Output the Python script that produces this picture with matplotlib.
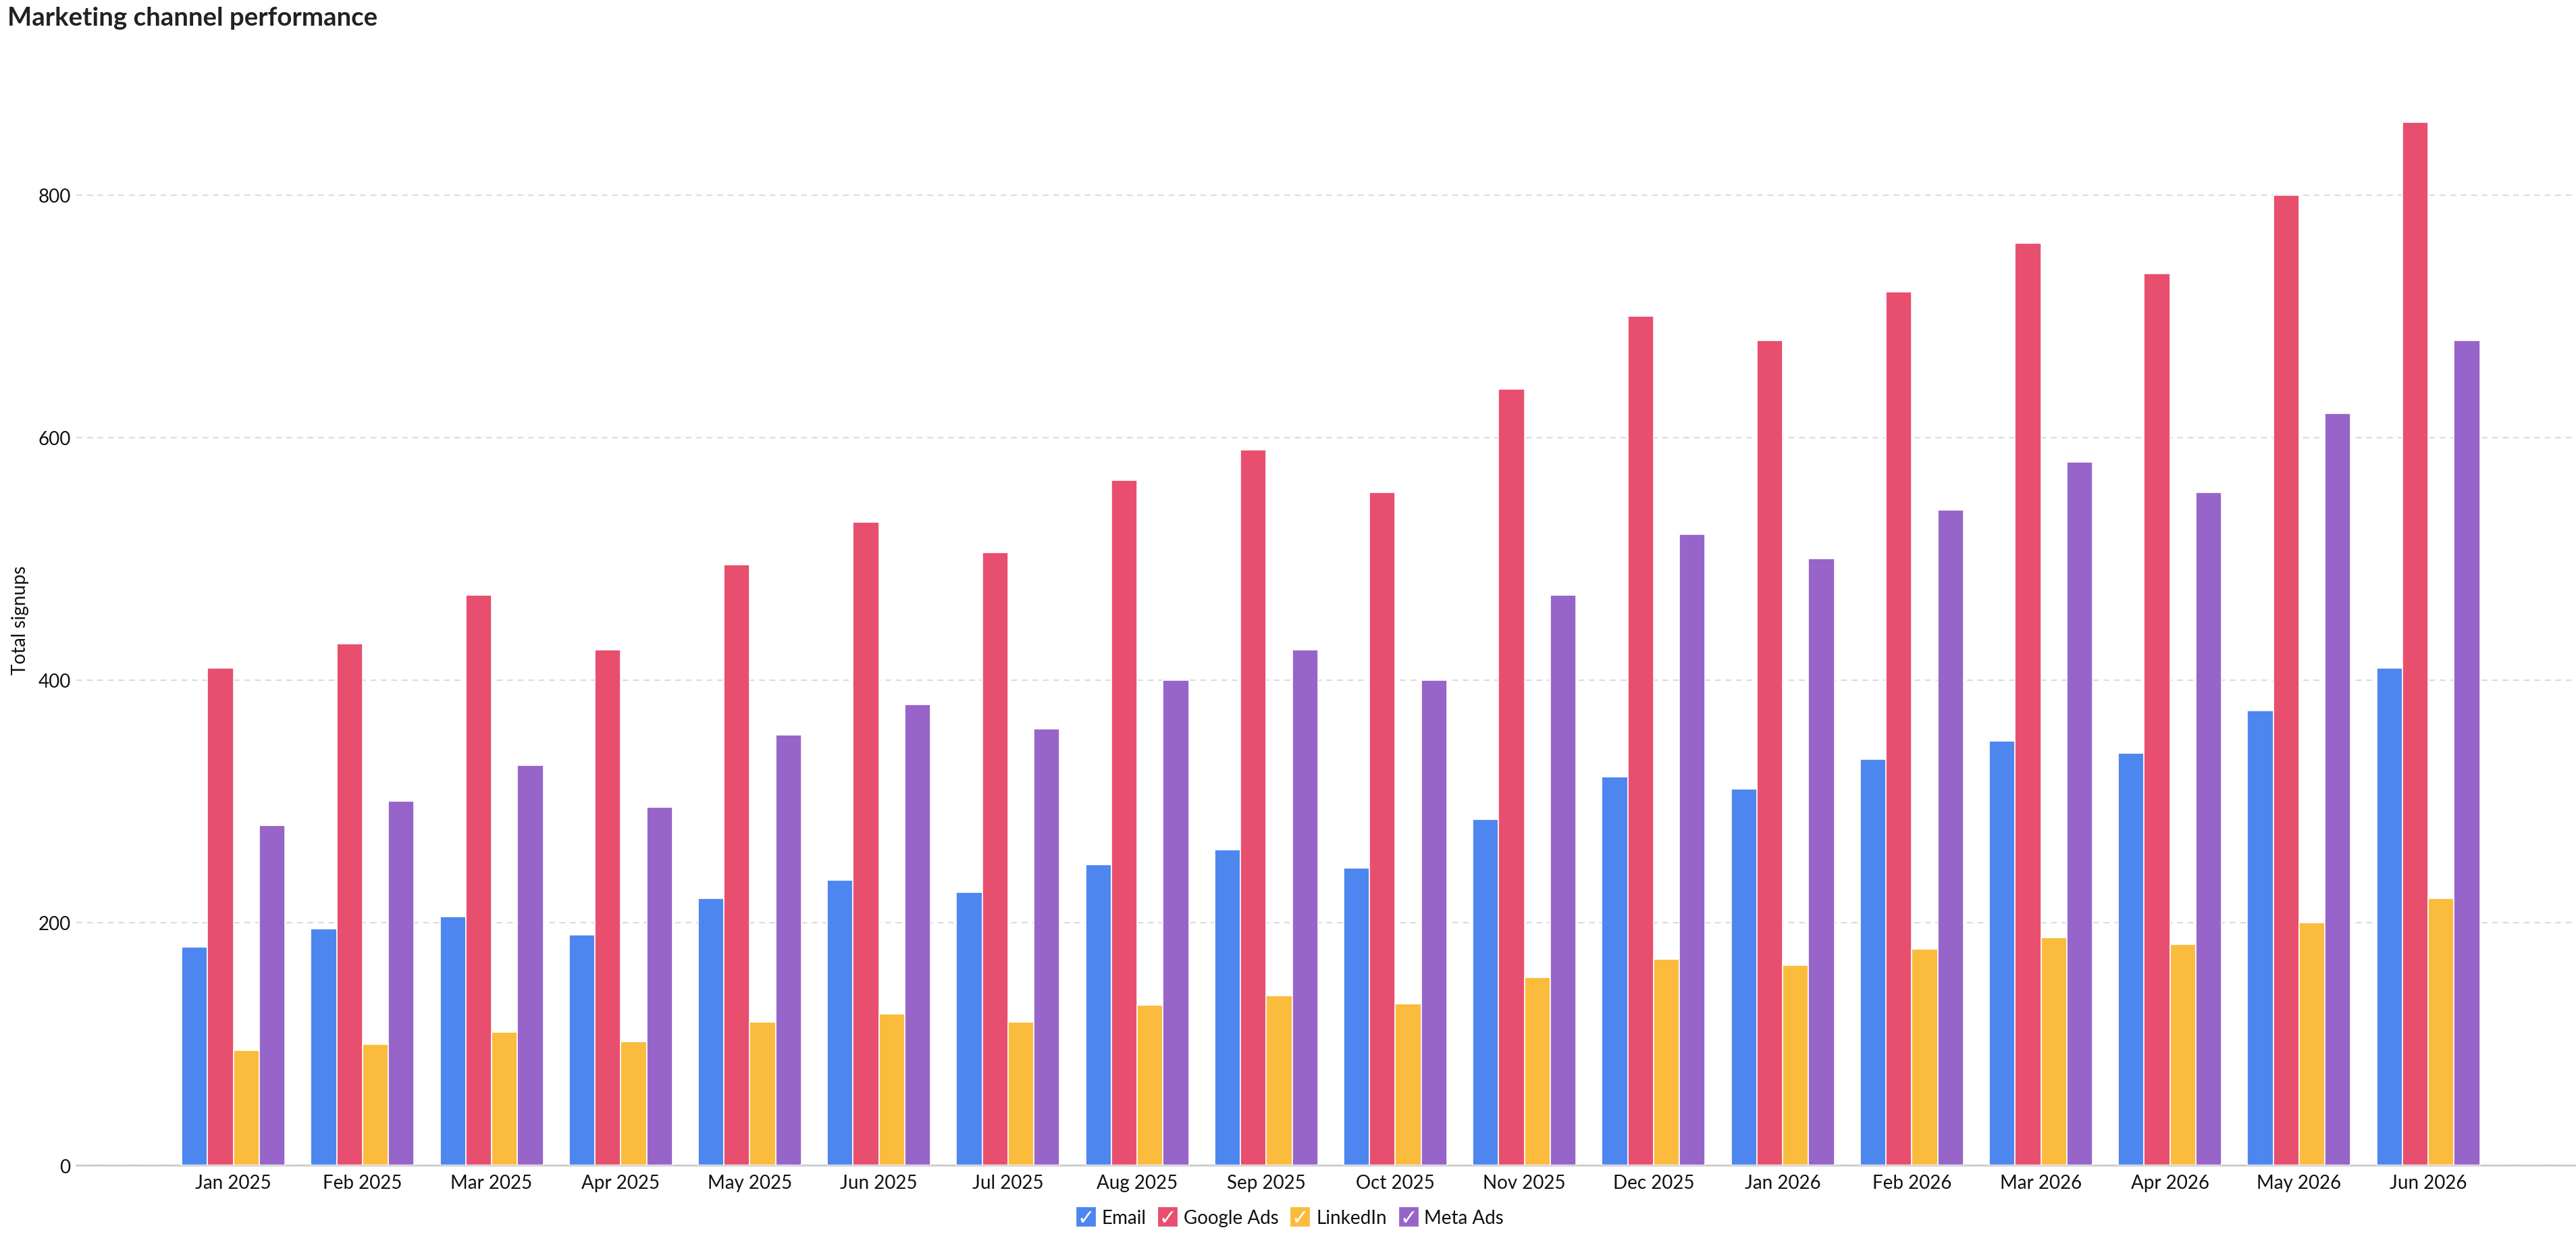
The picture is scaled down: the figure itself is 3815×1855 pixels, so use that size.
import matplotlib.pyplot as plt
import numpy as np
from matplotlib.lines import Line2D
from matplotlib.legend_handler import HandlerTuple

plt.rcParams["font.family"] = ["Lato", "DejaVu Sans"]

months = ["Jan 2025", "Feb 2025", "Mar 2025", "Apr 2025", "May 2025", "Jun 2025",
          "Jul 2025", "Aug 2025", "Sep 2025", "Oct 2025", "Nov 2025", "Dec 2025",
          "Jan 2026", "Feb 2026", "Mar 2026", "Apr 2026", "May 2026", "Jun 2026"]
channels = ["Email", "Google Ads", "LinkedIn", "Meta Ads"]
email = [180, 195, 205, 190, 220, 235, 225, 248, 260, 245, 285, 320, 310, 335, 350, 340, 375, 410]
google_ads = [410, 430, 470, 425, 495, 530, 505, 565, 590, 555, 640, 700, 680, 720, 760, 735, 800, 860]
linkedin = [95, 100, 110, 102, 118, 125, 118, 132, 140, 133, 155, 170, 165, 178, 188, 182, 200, 220]
meta_ads = [280, 300, 330, 295, 355, 380, 360, 400, 425, 400, 470, 520, 500, 540, 580, 555, 620, 680]
colors = ["#4E86F0", "#E84F6F", "#FBBB3C", "#9765C9"]

fig = plt.figure(figsize=(19.08, 9.28), dpi=200)
ax = fig.add_axes([0.0296, 0.070, 0.9704, 0.8707])

x = np.arange(len(months))
series = [email, google_ads, linkedin, meta_ads]
w = 0.2
for i, (vals, name) in enumerate(zip(series, channels)):
    ax.bar(x + (i - 1.5) * w, vals, width=w, color=colors[i], edgecolor="white",
           linewidth=0.6, label=name, zorder=3)

ax.set_xlim(-1.217, 18.15)
ax.set_ylim(0, 900)
ax.set_yticks([0, 200, 400, 600, 800])
ax.set_xticks(x)
ax.set_xticklabels(months)
ax.tick_params(axis="both", length=0, labelsize=10, colors="#111111")
ax.tick_params(axis="y", pad=3)
ax.tick_params(axis="x", pad=4.5)
ax.grid(axis="y", color="#DDDDDD", linestyle=(0, (4, 3)), linewidth=0.8, zorder=0)
for s in ["top", "right", "left"]:
    ax.spines[s].set_visible(False)
ax.spines["bottom"].set_color("#CCCCCC")
ax.spines["bottom"].set_linewidth(1.0)
ax.set_ylabel("Total signups", fontsize=10, color="#111111")
ax.yaxis.set_label_coords(-0.019, 0.5)

fig.text(0.003, 0.9855, "Marketing channel performance", fontsize=13.8,
         fontweight="bold", color="#222222", va="center", ha="left")

handles = []
for c in colors:
    box = Line2D([], [], marker="s", markersize=9.5, color=c, linestyle="none")
    tick = Line2D([], [], marker=r"$\checkmark$", markersize=6, color="white",
                  markeredgewidth=0, linestyle="none")
    handles.append((box, tick))
fig.legend(handles, channels, loc="center", bbox_to_anchor=(0.5006, 0.028), ncol=4,
           frameon=False, fontsize=10, handler_map={tuple: HandlerTuple(ndivide=1)},
           handlelength=1.0, handletextpad=0.35, columnspacing=0.65,
           labelcolor="#111111")

fig.savefig("out.png", dpi=200)
